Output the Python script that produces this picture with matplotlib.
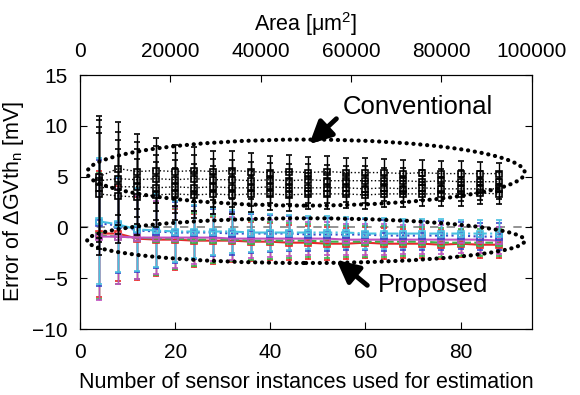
import numpy as np
import matplotlib
matplotlib.use("Agg")
import matplotlib.pyplot as plt
from matplotlib.patches import Ellipse

plt.rcParams['font.family'] = ['Liberation Sans', 'DejaVu Sans']
plt.rcParams['font.size'] = 15
plt.rcParams['mathtext.default'] = 'regular'

# number of sensor instances
n_sensors = [4, 8, 12, 16, 20, 24, 28, 32, 36, 40, 44, 48, 52, 56, 60, 64, 68, 72, 76, 80, 84, 88]

# conventional method: four series, shared spread per column
conv_a = [5.0, 5.8, 5.5, 5.6, 5.5, 5.6, 5.5, 5.6, 5.5, 5.4, 5.5, 5.4, 5.5, 5.4, 5.4, 5.4, 5.3, 5.4, 5.3, 5.3, 5.3, 5.3]
conv_b = [4.6, 4.8, 4.7, 4.8, 4.7, 4.8, 4.7, 4.7, 4.6, 4.7, 4.6, 4.7, 4.6, 4.6, 4.6, 4.6, 4.6, 4.5, 4.6, 4.5, 4.5, 4.5]
conv_c = [3.9, 4.0, 4.0, 3.9, 4.0, 3.9, 4.0, 3.9, 3.9, 4.0, 3.9, 3.9, 3.9, 3.9, 3.8, 3.9, 3.8, 3.9, 3.8, 3.8, 3.8, 3.8]
conv_d = [3.3, 3.1, 3.0, 3.2, 3.3, 3.2, 3.3, 3.2, 3.3, 3.3, 3.2, 3.3, 3.3, 3.3, 3.2, 3.3, 3.3, 3.3, 3.3, 3.3, 3.4, 3.3]
conv_err = [6.0, 4.6, 3.7, 3.2, 2.6, 2.3, 2.0, 1.9, 1.8, 1.6, 1.6, 1.5, 1.5, 1.4, 1.4, 1.3, 1.3, 1.2, 1.2, 1.2, 1.1, 1.0]

# proposed method: five series, shared spread per column
prop_red = [-0.6, -0.6, -1.1, -1.2, -1.2, -1.3, -1.3, -1.3, -1.4, -1.4, -1.5, -1.5, -1.6, -1.6, -1.5, -1.6, -1.6, -1.6, -1.7, -1.6, -1.7, -1.7]
prop_green = [-0.8, -0.9, -1.0, -1.1, -1.1, -1.2, -1.2, -1.2, -1.3, -1.3, -1.3, -1.3, -1.4, -1.4, -1.4, -1.4, -1.4, -1.4, -1.5, -1.5, -1.5, -1.5]
prop_magenta = [-0.9, -0.9, -1.0, -1.0, -1.0, -1.0, -1.0, -1.1, -1.1, -1.1, -1.1, -1.1, -1.1, -1.2, -1.2, -1.2, -1.2, -1.2, -1.2, -1.2, -1.2, -1.3]
prop_blue = [0.4, 0.2, -0.3, -0.4, -0.5, -0.5, -0.5, -0.6, -0.6, -0.6, -0.6, -0.7, -0.7, -0.7, -0.7, -0.8, -0.8, -0.8, -0.8, -0.8, -0.9, -0.9]
prop_cyan = [0.6, 0.3, -0.2, -0.3, -0.4, -0.4, -0.4, -0.4, -0.5, -0.5, -0.5, -0.5, -0.5, -0.5, -0.6, -0.6, -0.6, -0.6, -0.6, -0.6, -0.6, -0.6]
prop_err = [6.2, 4.7, 4.1, 3.6, 3.0, 2.6, 2.3, 2.1, 1.9, 1.8, 1.7, 1.6, 1.6, 1.5, 1.5, 1.5, 1.4, 1.4, 1.4, 1.3, 1.3, 1.3]

fig = plt.figure(figsize=(5.8, 3.95), dpi=100)
ax = fig.add_axes([0.138, 0.167, 0.779, 0.643])

# zero reference
ax.axhline(0, color='#808080', ls=(0, (5, 5)), lw=1.2, zorder=1)

# proposed series
prop = [(prop_red, '#e8282a', '-'), (prop_green, '#3cb44b', '--'),
        (prop_magenta, '#c050c0', '-'), (prop_blue, '#3848c8', ':'),
        (prop_cyan, '#48c0e0', '-.')]
for vals, c, ls in prop:
    ax.errorbar(n_sensors, vals, yerr=prop_err, color=c, ls=ls, lw=1.5,
                marker='s', ms=5, mfc='none', mew=1.2, elinewidth=1,
                capsize=2, zorder=2)

# conventional series
for vals in [conv_a, conv_b, conv_c, conv_d]:
    ax.errorbar(n_sensors, vals, yerr=conv_err, color='black', ls=':', lw=1,
                marker='s', ms=5, mfc='none', mew=1.2, elinewidth=1,
                capsize=2, zorder=3)

# grouping ellipses
dot = (0, (0.05, 1.6))
for cy, h in [(5.4, 6.5), (-1.3, 4.4)]:
    e = Ellipse((47.5, cy), 92, h, fill=False, ec='black', lw=3,
                ls=dot, zorder=4)
    e.set_capstyle('round')
    ax.add_patch(e)

arrow = dict(arrowstyle='-|>,head_width=0.45,head_length=0.9', lw=3.5,
             color='black', shrinkA=0, shrinkB=0)
ax.annotate('', xy=(48.2, 8.2), xytext=(53.9, 10.7), arrowprops=arrow, zorder=5)
ax.text(71, 11.9, 'Conventional', fontsize=18.5, ha='center', va='center')
ax.annotate('', xy=(53.9, -3.2), xytext=(60.4, -5.7), arrowprops=arrow, zorder=5)
ax.text(74.3, -5.7, 'Proposed', fontsize=18.5, ha='center', va='center')

ax.set_xlim(0, 95)
ax.set_ylim(-10, 15)
ax.set_xticks([0, 20, 40, 60, 80])
ax.set_yticks([-10, -5, 0, 5, 10, 15])
ax.tick_params(axis='x', direction='in', length=5, top=False, pad=10, labelsize=15)
ax.tick_params(axis='y', direction='in', length=5, right=True, pad=9, labelsize=15)
ax.set_xlabel('Number of sensor instances used for estimation', fontsize=15.5, labelpad=7)
ax.set_ylabel('Error of ΔGVth$_\\mathregular{n}$ [mV]', fontsize=15.5, labelpad=4)

ax2 = ax.twiny()
ax2.set_xlim(0, 100000)
ax2.set_xticks([0, 20000, 40000, 60000, 80000, 100000])
ax2.tick_params(direction='in', length=5, pad=10, labelsize=15)
ax2.set_xlabel('Area [μm$^\\mathregular{2}$]', fontsize=15.5, labelpad=8)

fig.savefig('out.png', dpi=100)
